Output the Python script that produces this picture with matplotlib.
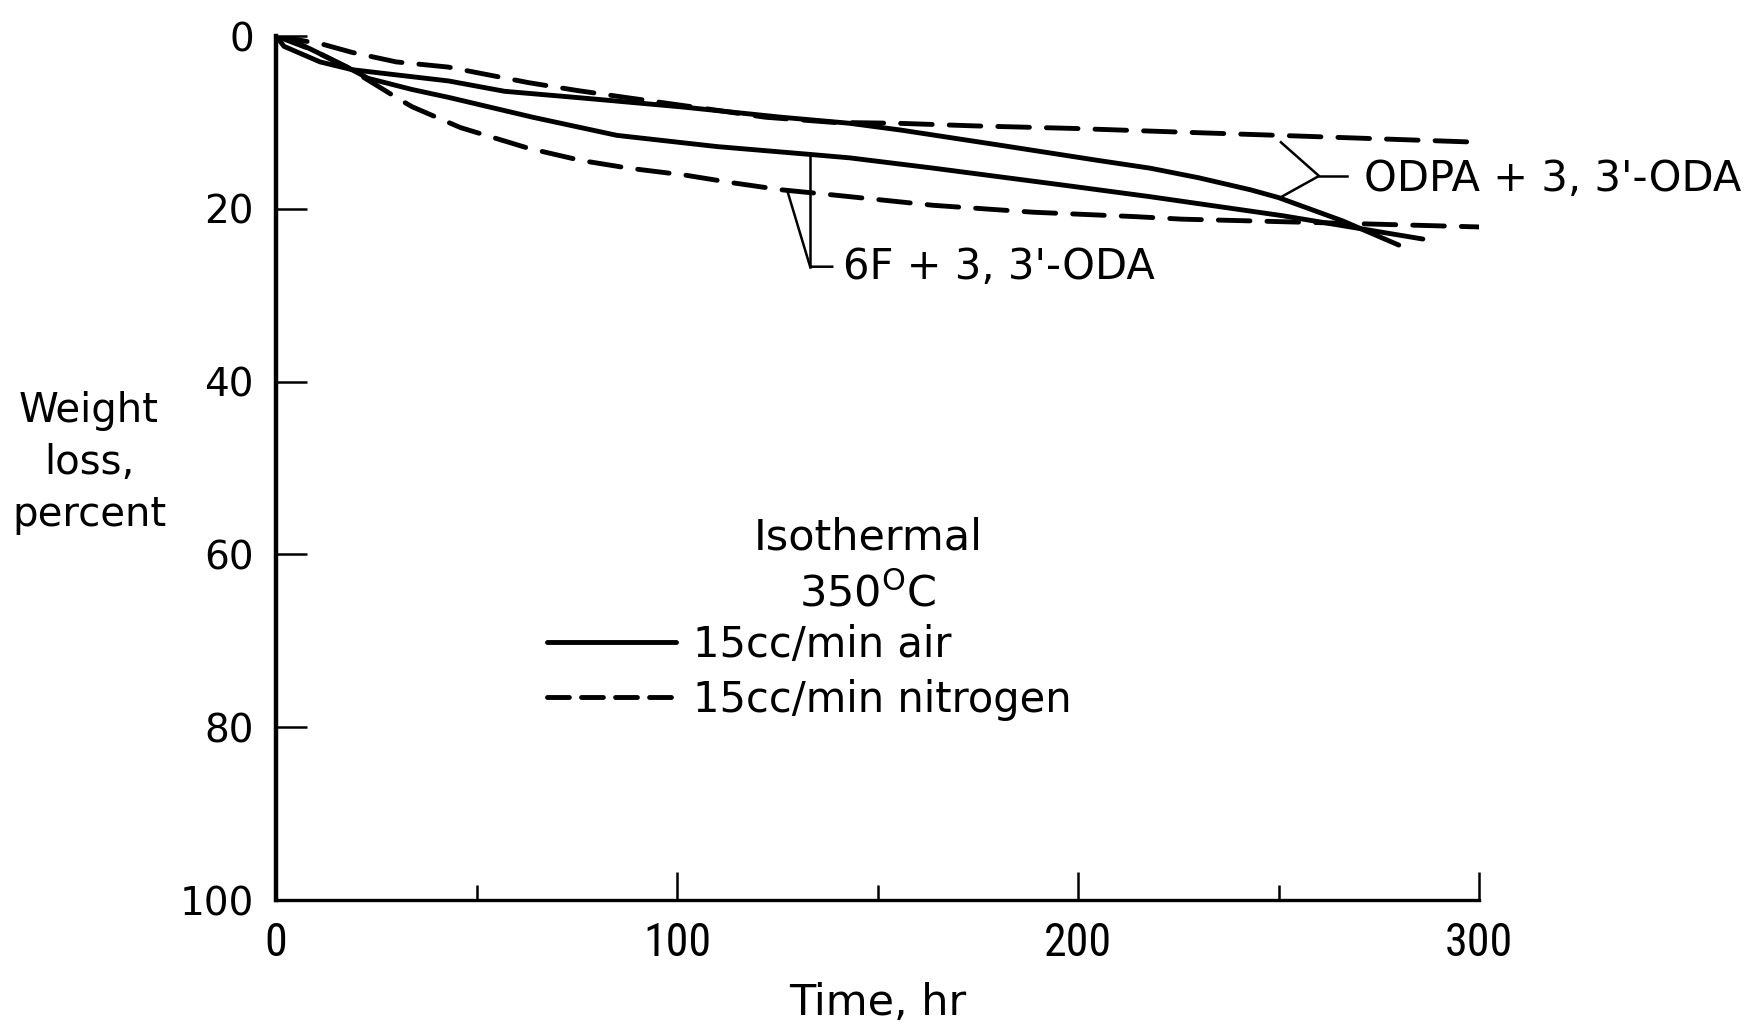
import matplotlib
matplotlib.use("Agg")
import matplotlib.pyplot as plt
from matplotlib.lines import Line2D

# --- data (time in hr, weight loss in percent) ---
odpa_air_t = [0, 2, 11, 19, 30, 43, 57, 77, 101, 126, 143, 156, 180, 205, 218, 230, 243, 250, 266, 280]
odpa_air_w = [0, 1.2, 3.0, 3.9, 4.5, 5.2, 6.4, 7.2, 8.2, 9.4, 10.1, 10.9, 12.6, 14.4, 15.3, 16.4, 17.8, 18.7, 21.4, 24.2]

sixf_air_t = [0, 3.5, 9, 17.7, 23, 34, 43, 64, 85, 110, 133, 143, 164, 197, 218, 230, 251, 286]
sixf_air_w = [0, 0.4, 1.6, 3.6, 4.9, 6.2, 7.1, 9.4, 11.5, 12.8, 13.7, 14.1, 15.3, 17.3, 18.6, 19.4, 20.8, 23.5]

odpa_n2_t = [0, 5, 12, 19, 30, 43, 63, 75, 87, 110, 122, 139, 155, 174, 199, 224, 250, 275, 300]
odpa_n2_w = [0, 0.4, 1.0, 1.9, 3.0, 3.6, 5.4, 6.3, 7.1, 8.6, 9.4, 10.0, 10.1, 10.4, 10.7, 11.1, 11.5, 11.9, 12.3]

sixf_n2_t = [0, 9, 17.7, 24, 31, 34, 43, 46, 63, 76, 88, 102, 114, 126, 139, 164, 189, 214, 226, 260, 300]
sixf_n2_w = [0, 1.6, 3.6, 5.4, 7.4, 8.2, 10.0, 10.6, 13.0, 14.4, 15.3, 16.1, 17.0, 17.8, 18.4, 19.6, 20.4, 20.9, 21.2, 21.6, 22.1]

x_major = [0, 100, 200, 300]
x_minor = [50, 150, 250]
y_ticks = [0, 20, 40, 60, 80, 100]

# --- figure ---
fig = plt.figure(figsize=(17.5, 10.33), dpi=100)
ax = fig.add_axes([276 / 1750, 1 - 900 / 1033, 1203 / 1750, 864 / 1033])

LW = 3.5
dash = (6.5, 3.5)

ax.plot(odpa_air_t, odpa_air_w, color='black', lw=LW, solid_capstyle='round',
        solid_joinstyle='round')
ax.plot(sixf_air_t, sixf_air_w, color='black', lw=LW, solid_capstyle='round',
        solid_joinstyle='round')
ax.plot(odpa_n2_t, odpa_n2_w, color='black', lw=LW, dashes=dash,
        dash_capstyle='round')
ax.plot(sixf_n2_t, sixf_n2_w, color='black', lw=LW, dashes=dash,
        dash_capstyle='round')

ax.set_xlim(0, 300)
ax.set_ylim(100, 0)

for s in ['top', 'right']:
    ax.spines[s].set_visible(False)
ax.spines['left'].set_linewidth(3.2)
ax.spines['bottom'].set_linewidth(2.4)

ax.set_xticks(x_major)
ax.set_xticks(x_minor, minor=True)
ax.set_yticks(y_ticks)
ax.tick_params(axis='x', which='major', direction='in', length=20, width=1.8, pad=15)
ax.tick_params(axis='x', which='minor', direction='in', length=11, width=1.8)
ax.tick_params(axis='y', which='major', direction='in', length=22, width=1.8, pad=16)

# condensed digits on the time axis, as in the original
for lab in ax.get_xticklabels():
    lab.set_family(['Roboto Condensed', 'DejaVu Sans'])
    lab.set_stretch('condensed')
    lab.set_fontsize(33)
for lab in ax.get_yticklabels():
    lab.set_family('DejaVu Sans')
    lab.set_fontsize(28)

ax.set_xlabel('Time, hr', fontsize=31, labelpad=12)
fig.text(89 / 1750, 1 - 463 / 1033, 'Weight\nloss,\npercent', fontsize=29,
         ha='center', va='center', multialignment='center', linespacing=1.4)

# --- curve labels with leader brackets ---
ax.plot([250.6, 260.1, 250.4], [12.3, 16.2, 18.7], color='black', lw=1.8)
ax.plot([260.1, 267.1], [16.2, 16.2], color='black', lw=1.8)
ax.text(271.3, 16.5, "ODPA + 3, 3'-ODA", fontsize=30, ha='left', va='center',
        clip_on=False)

ax.plot([133.2, 133.2], [13.7, 26.7], color='black', lw=1.8)
ax.plot([127.5, 133.2, 138.7], [17.9, 26.7, 26.7], color='black', lw=1.8)
ax.text(141.4, 26.7, "6F + 3, 3'-ODA", fontsize=30, ha='left', va='center')

# --- key ---
ax.text(147.6, 58.1, 'Isothermal', fontsize=31, ha='center', va='center')
ax.text(147.6, 64.6, r'350$^{\mathrm{O}}$C', fontsize=31, ha='center', va='center')
handles = [Line2D([], [], color='black', lw=LW, solid_capstyle='round'),
           Line2D([], [], color='black', lw=LW, dashes=(4.5, 2.5), dash_capstyle='round')]
ax.legend(handles, ['15cc/min air', '15cc/min nitrogen'], loc='upper left',
          bbox_to_anchor=(0.2253, 0.3194), frameon=False, fontsize=30,
          handlelength=3.1, handletextpad=0.4, borderpad=0, borderaxespad=0,
          labelspacing=0.3)

fig.savefig('out.png', dpi=100)
